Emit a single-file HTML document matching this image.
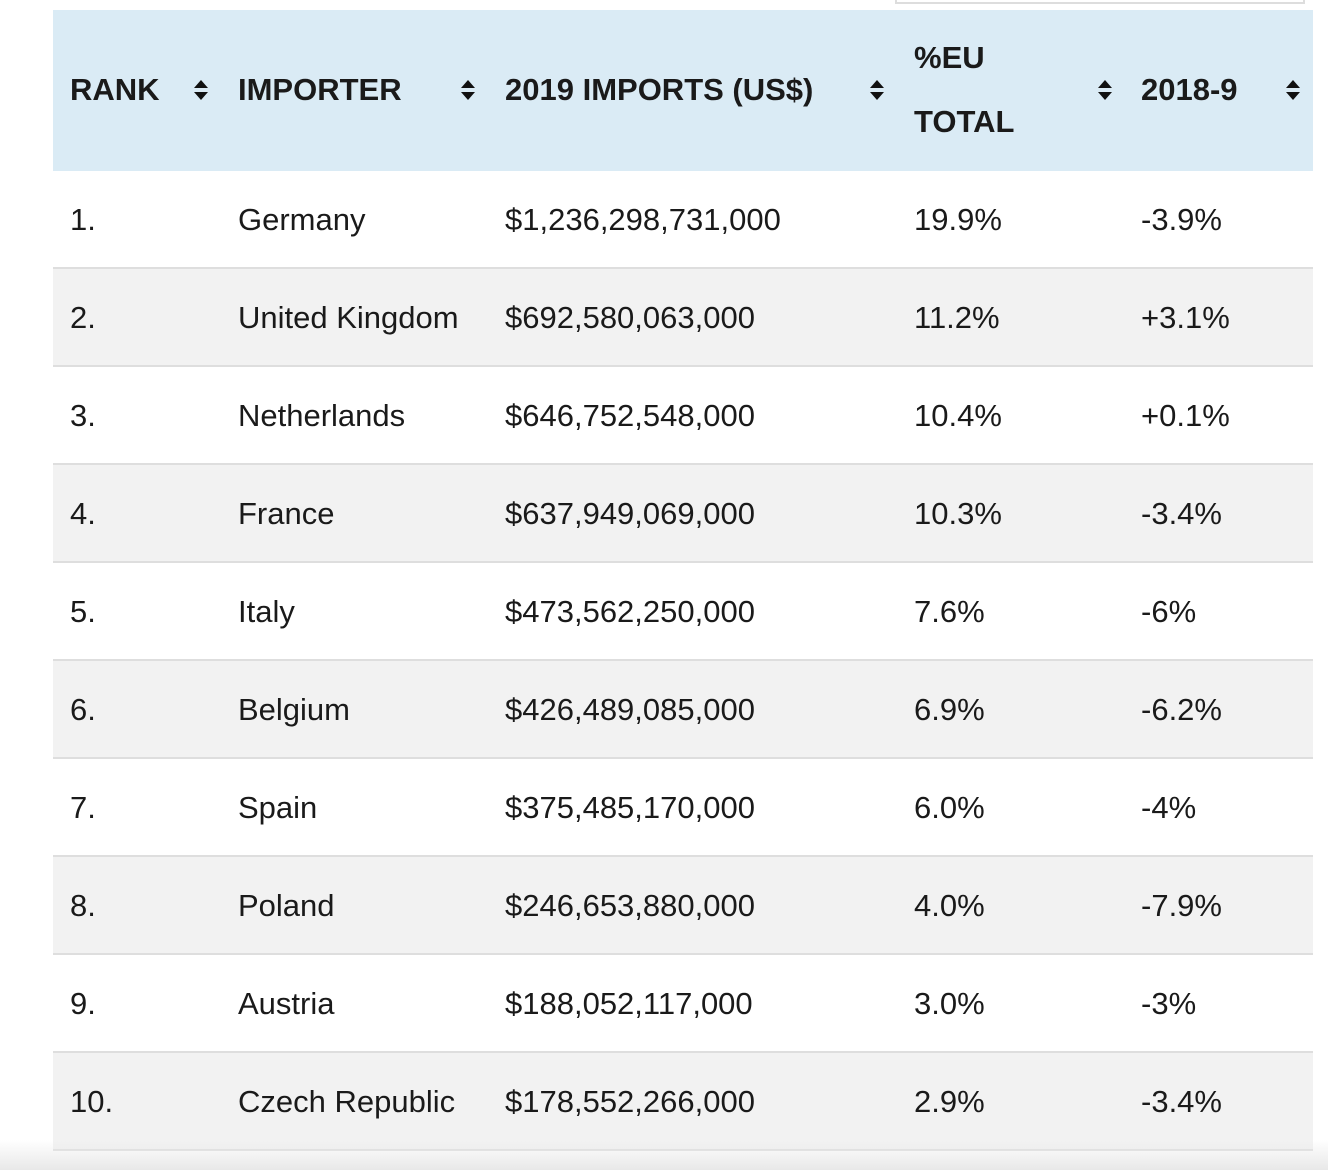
<!DOCTYPE html>
<html><head><meta charset="utf-8">
<style>
body{margin:0;width:1328px;height:1170px;background:#fff;position:relative;overflow:hidden;font-family:"Liberation Sans",Arial,sans-serif;color:#1a1a1a}
.search{position:absolute;left:895px;top:-4px;width:410px;height:8px;border:2px solid #ddd;border-top:none;box-sizing:border-box;background:#fff}
.head{position:absolute;left:53px;top:10px;width:1260px;height:161px;background:#daebf5}
.h{position:absolute;font-weight:bold;font-size:31px;top:62px;line-height:36px;white-space:nowrap}
.sort{position:absolute;top:69px;width:16px;height:22px}
.row{position:absolute;left:53px;width:1260px;height:96px;border-bottom:2px solid #dedede}
.c{position:absolute;top:31px;font-size:31px;line-height:36px;white-space:nowrap}
.fade{position:absolute;left:0;top:1140px;width:1328px;height:30px;background:linear-gradient(#ffffff00,#e8e8e8);pointer-events:none}
</style></head><body>
<div class="search"></div>
<div class="head">
  <div class="h" style="left:17px">RANK</div>
  <div class="h" style="left:185px">IMPORTER</div>
  <div class="h" style="left:452px">2019 IMPORTS (US$)</div>
  <div class="h" style="left:861px;top:16px;line-height:64px">%EU<br>TOTAL</div>
  <div class="h" style="left:1088px">2018-9</div>
</div>
<div id="rows"></div>
<div class="fade"></div>
<script>
const ranks=["1.","2.","3.","4.","5.","6.","7.","8.","9.","10."];
const importers=["Germany","United Kingdom","Netherlands","France","Italy","Belgium","Spain","Poland","Austria","Czech Republic"];
const imports=["$1,236,298,731,000","$692,580,063,000","$646,752,548,000","$637,949,069,000","$473,562,250,000","$426,489,085,000","$375,485,170,000","$246,653,880,000","$188,052,117,000","$178,552,266,000"];
const euShare=["19.9%","11.2%","10.4%","10.3%","7.6%","6.9%","6.0%","4.0%","3.0%","2.9%"];
const changes=["-3.9%","+3.1%","+0.1%","-3.4%","-6%","-6.2%","-4%","-7.9%","-3%","-3.4%"];
const colX=[17,185,452,861,1088];
const sortX=[193,460,869,1097,1285];
const head=document.querySelector('.head');
sortX.forEach(function(x){
  const s=document.createElementNS('http://www.w3.org/2000/svg','svg');
  s.setAttribute('class','sort');
  s.setAttribute('viewBox','0 0 16 22');
  s.style.left=(x-53)+'px';
  
  
  s.innerHTML='<path d="M1 9 L8 1 L15 9 Z M1 13 L8 21 L15 13 Z" fill="#111"/>';
  head.appendChild(s);
});
const rows=document.getElementById('rows');
ranks.forEach(function(r,i){
  const row=document.createElement('div');
  row.className='row';
  row.style.top=(171+i*98)+'px';
  row.style.background=i%2?'#f2f2f2':'#fff';
  
  
  const vals=[r,importers[i],imports[i],euShare[i],changes[i]];
  const names=['rank-cell','importer-cell','imports-cell','eu-share-cell','change-cell'];
  vals.forEach(function(v,j){
    const c=document.createElement('div');
    c.className='c';
    c.style.left=colX[j]+'px';
    c.textContent=v;
    
    
    row.appendChild(c);
  });
  rows.appendChild(row);
});
</script>
</body></html>
